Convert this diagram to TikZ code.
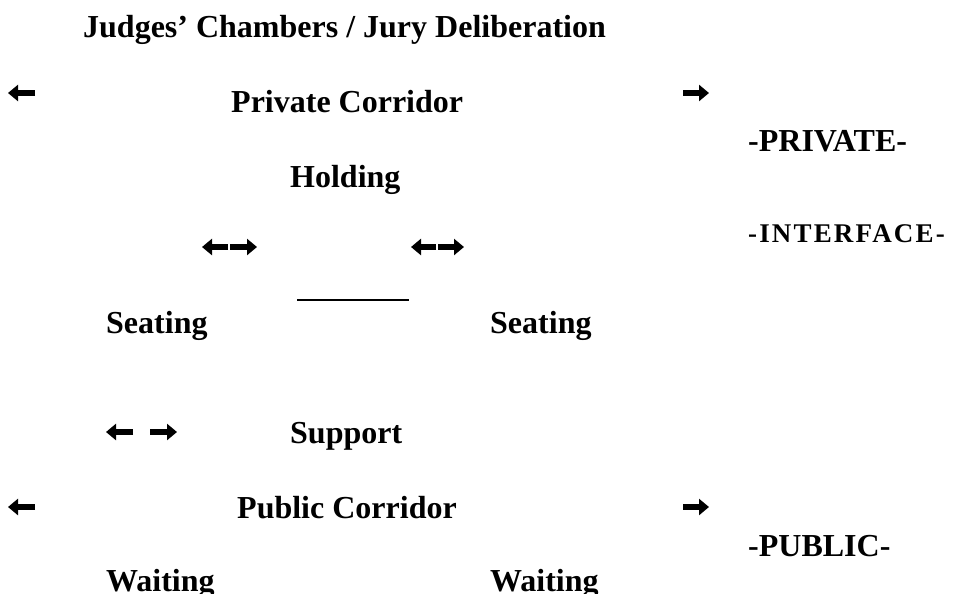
\documentclass[tikz,border=0pt]{standalone}
\usepackage{fontspec}
\setmainfont{Liberation Serif}
\usetikzlibrary{arrows.meta}
\tikzset{
  lbl/.style={anchor=base west, inner sep=0pt, font=\fontsize{32}{38}\selectfont\bfseries},
  zone/.style={lbl},
  zonesm/.style={anchor=base west, inner sep=0pt, font=\fontsize{27}{32}\selectfont\bfseries\addfontfeature{LetterSpace=8}},
  harrow/.style={line width=5.5pt, -{Triangle[length=10pt,width=16pt]}},
  rule/.style={line width=2pt}
}
\begin{document}
\begin{tikzpicture}[x=1pt,y=-1pt]
\useasboundingbox (0,0) rectangle (969,594);
% labels
\node[lbl] (title) at (83,38) {Judges’ Chambers / Jury Deliberation};
\node[lbl] (pcor) at (231,112) {Private Corridor};
\node[lbl] (hold) at (290,187) {Holding};
\node[lbl] (seatL) at (106,333) {Seating};
\node[lbl] (seatR) at (490,333) {Seating};
\node[lbl] (supp) at (290,443) {Support};
\node[lbl] (pubc) at (237,518) {Public Corridor};
\node[lbl] (waitL) at (106,591) {Waiting};
\node[lbl] (waitR) at (490,591) {Waiting};
\node[zone] (zpriv) at (748,151) {-PRIVATE-};
\node[zonesm] (zint) at (748,242) {-INTERFACE-};
\node[zone] (zpub) at (748,556) {-PUBLIC-};
% arrow anchor coordinates
\coordinate (a1s) at (35,93);  \coordinate (a1e) at (8,93);
\coordinate (a2s) at (683,93); \coordinate (a2e) at (709,93);
\coordinate (b1m) at (229,247); \coordinate (b1l) at (202,247); \coordinate (b1r) at (257,247);
\coordinate (b2m) at (437,247); \coordinate (b2l) at (411,247); \coordinate (b2r) at (464,247);
\coordinate (c1s) at (133,432); \coordinate (c1e) at (106,432);
\coordinate (c2s) at (150,432); \coordinate (c2e) at (177,432);
\coordinate (d1s) at (35,507);  \coordinate (d1e) at (8,507);
\coordinate (d2s) at (683,507); \coordinate (d2e) at (709,507);
\coordinate (ruleL) at (297,300); \coordinate (ruleR) at (409,300);
% arrows
\draw[harrow] (a1s) -- (a1e);
\draw[harrow] (a2s) -- (a2e);
\draw[harrow] ([xshift=-1pt]b1m) -- (b1l);
\draw[harrow] ([xshift=1pt]b1m) -- (b1r);
\draw[harrow] ([xshift=-1pt]b2m) -- (b2l);
\draw[harrow] ([xshift=1pt]b2m) -- (b2r);
\draw[harrow] (c1s) -- (c1e);
\draw[harrow] (c2s) -- (c2e);
\draw[harrow] (d1s) -- (d1e);
\draw[harrow] (d2s) -- (d2e);
% rule
\draw[rule] (ruleL) -- (ruleR);
\end{tikzpicture}
\end{document}
